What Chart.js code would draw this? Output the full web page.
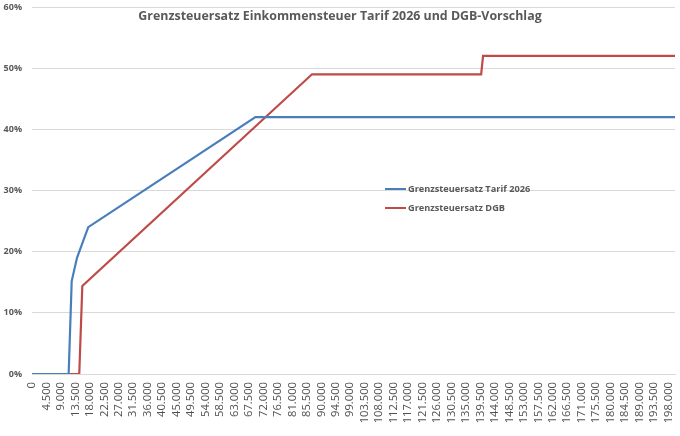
<!DOCTYPE html>
<html>
<head>
<meta charset="utf-8">
<script src="https://cdn.jsdelivr.net/npm/chart.js@4.4.1/dist/chart.umd.min.js"></script>
<style>
  html, body { margin: 0; padding: 0; background: #fff; }
  #wrap { width: 680px; height: 436px; }
</style>
</head>
<body>
<div id="wrap"><canvas id="taxChart"></canvas></div>
<script>
// income in EUR, marginal rate in %
const tarifIncome = [0, 11400, 12350, 14000, 17500, 69500, 200000];
const tarifRate   = [0, 0, 15.2, 19.0, 24.0, 42.0, 42.0];

const dgbIncome = [0, 14700, 15650, 87100, 139700, 140300, 200000];
const dgbRate   = [0, 0, 14.4, 49.0, 49.0, 52.0, 52.0];

const xTicks = [0, 4500, 9000, 13500, 18000, 22500, 27000, 31500, 36000, 40500, 45000,
  49500, 54000, 58500, 63000, 67500, 72000, 76500, 81000, 85500, 90000, 94500, 99000,
  103500, 108000, 112500, 117000, 121500, 126000, 130500, 135000, 139500, 144000,
  148500, 153000, 157500, 162000, 166500, 171000, 175500, 180000, 184500, 189000,
  193500, 198000];
const yTicks = [0, 10, 20, 30, 40, 50, 60];

const title = 'Grenzsteuersatz Einkommensteuer Tarif 2026 und DGB-Vorschlag';
const seriesNames = ['Grenzsteuersatz Tarif 2026', 'Grenzsteuersatz DGB'];

const toPoints = (xs, ys) => xs.map((x, i) => ({ x: x, y: ys[i] }));
const fmtThousands = v => String(v).replace(/\B(?=(\d{3})+(?!\d))/g, '.');

const FONT = '"Open Sans", "Liberation Sans", sans-serif';
const GREY = '#595959';

// title and legend sit inside the plot area like in the Excel original
const overlay = {
  id: 'overlay',
  afterDraw(chart) {
    const c = chart.ctx;
    c.save();
    c.fillStyle = GREY;
    c.font = 'bold 12.4px ' + FONT;
    c.textAlign = 'center';
    c.textBaseline = 'middle';
    c.fillText(title, 340, 16);

    c.font = 'bold 9.2px ' + FONT;
    c.textAlign = 'left';
    const rows = [189, 208];
    chart.data.datasets.forEach((ds, i) => {
      const y = rows[i];
      c.strokeStyle = ds.borderColor;
      c.lineWidth = 2;
      c.beginPath();
      c.moveTo(385, y);
      c.lineTo(406, y);
      c.stroke();
      c.fillStyle = GREY;
      c.fillText(ds.label, 408, y);
    });
    c.restore();
  }
};

const ctx = document.getElementById('taxChart').getContext('2d');
const taxChart = new Chart(ctx, {
  type: 'line',
  data: {
    datasets: [{
      label: seriesNames[0],
      data: toPoints(tarifIncome, tarifRate),
      borderColor: '#4A7EBB',
      borderWidth: 2.2,
      pointRadius: 0,
      fill: false,
      tension: 0
    }, {
      label: seriesNames[1],
      data: toPoints(dgbIncome, dgbRate),
      borderColor: '#BE4B48',
      borderWidth: 2.2,
      pointRadius: 0,
      fill: false,
      tension: 0
    }]
  },
  plugins: [overlay],
  options: {
    responsive: true,
    maintainAspectRatio: false,
    animation: false,
    layout: { padding: { top: 7, right: 5, left: 0, bottom: 0 } },
    plugins: {
      legend: { display: false },
      title: { display: false },
      tooltip: { enabled: false }
    },
    scales: {
      x: {
        type: 'linear',
        min: 0,
        max: 200000,
        afterBuildTicks: axis => { axis.ticks = xTicks.map(v => ({ value: v })); },
        afterFit: axis => {
          axis.height = 62;
          axis.paddingLeft = 0;
          axis.paddingRight = 0;
        },
        grid: { display: false, drawTicks: false },
        border: { display: true, color: '#d9d9d9', width: 1 },
        ticks: {
          autoSkip: false,
          minRotation: 90,
          maxRotation: 90,
          padding: 8,
          color: '#505050',
          font: { family: FONT, size: 11.2 },
          callback: v => fmtThousands(v)
        }
      },
      y: {
        min: 0,
        max: 60,
        afterBuildTicks: axis => { axis.ticks = yTicks.map(v => ({ value: v })); },
        afterFit: axis => {
          axis.width = 32;
          axis.paddingTop = 0;
          axis.paddingBottom = 0;
        },
        grid: { color: '#d9d9d9', lineWidth: 1, drawTicks: false },
        border: { display: false },
        ticks: {
          padding: 10,
          color: GREY,
          font: { family: FONT, size: 9, weight: 'bold' },
          callback: v => v + '%'
        }
      }
    }
  }
});
</script>
</body>
</html>
